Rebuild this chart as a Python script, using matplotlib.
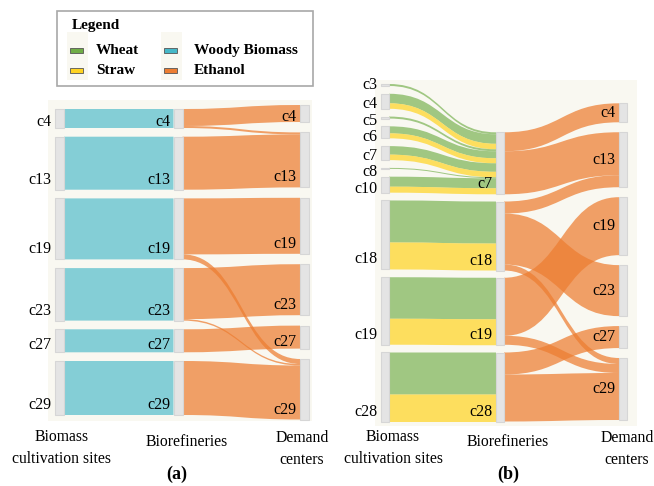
"""Two-panel Sankey: biomass sites -> biorefineries -> ethanol demand centres."""

import matplotlib
matplotlib.use("Agg")
import matplotlib.pyplot as plt
from matplotlib.path import Path
from matplotlib.patches import PathPatch, Rectangle

SERIF = ["Liberation Serif", "DejaVu Serif"]

# ---- data (flow sizes) ----
# panel (a): woody biomass only
a_sites = ["c4", "c13", "c19", "c23", "c27", "c29"]
a_refineries = ["c4", "c13", "c19", "c23", "c27", "c29"]
a_demand = ["c4", "c13", "c19", "c23", "c27", "c29"]
a_site_ref = ["c4", "c13", "c19", "c23", "c27", "c29"]
a_woody = [19, 53, 61, 52.5, 23, 54]
a_eth_src = ["c4", "c4", "c13", "c19", "c19", "c23", "c23", "c27", "c29"]
a_eth_dst = ["c4", "c13", "c13", "c19", "c29", "c23", "c29", "c27", "c29"]
a_eth_val = [17, 2, 53, 56, 5, 51, 1.5, 23, 54]

# panel (b): wheat + straw
b_sites = ["c3", "c4", "c5", "c6", "c7", "c8", "c10", "c18", "c19", "c28"]
b_refineries = ["c7", "c18", "c19", "c28"]
b_demand = ["c4", "c13", "c19", "c23", "c27", "c29"]
b_site_ref = ["c7", "c7", "c7", "c7", "c7", "c7", "c7", "c18", "c19", "c28"]
b_wheat = [2, 9.5, 2, 7, 8.5, 1, 10, 42, 41.5, 42]
b_straw = [0, 5.5, 0, 5, 5.5, 0, 6, 27, 26, 27.5]
b_eth_src = ["c7", "c7", "c18", "c18", "c18", "c19", "c19", "c28", "c28"]
b_eth_dst = ["c4", "c13", "c13", "c23", "c29", "c19", "c29", "c27", "c29"]
b_eth_val = [19, 43, 12, 51, 6, 58, 9, 22, 47]

# ---- styling ----
BG = "#f9f8f1"
BASE = {"Wheat": "#70ad47", "Straw": "#ffd320",
        "Woody Biomass": "#46b8c8", "Ethanol": "#ed7d31"}
ALPHA = {"Wheat": 0.65, "Straw": 0.7, "Woody Biomass": 0.65, "Ethanol": 0.72}
LABEL_SIZE = 11.5
LABEL_GAP = 16.5  # minimum spacing between node labels in one column


def bezier_band(x0, s0, x1, t0, w):
    xm = (x0 + x1) / 2
    verts = [(x0, s0), (xm, s0), (xm, t0), (x1, t0),
             (x1, t0 + w), (xm, t0 + w), (xm, s0 + w), (x0, s0 + w), (x0, s0)]
    codes = [Path.MOVETO, Path.CURVE4, Path.CURVE4, Path.CURVE4,
             Path.LINETO, Path.CURVE4, Path.CURVE4, Path.CURVE4, Path.CLOSEPOLY]
    return Path(verts, codes)


def draw_sankey(ax, columns, links, layout):
    """columns: list of node-name lists; links: (col, src, dst, value, kind)."""
    xs, nw = layout["xs"], layout["node_w"]
    inflow, outflow = {}, {}
    for c, s, d, v, _ in links:
        outflow[(c, s)] = outflow.get((c, s), 0) + v
        inflow[(c + 1, d)] = inflow.get((c + 1, d), 0) + v

    # node positions: each column fitted in its span with even padding
    pos = {}
    for c, names in enumerate(columns):
        vals = [max(inflow.get((c, n), 0), outflow.get((c, n), 0)) for n in names]
        top, bot = layout["spans"][c]
        pad = (bot - top - sum(vals)) / (len(names) - 1)
        y = top
        for n, v in zip(names, vals):
            pos[(c, n)] = (y, v)
            y += v + pad

    # stack links at source (by target y) and target (by source y)
    order_out = sorted(range(len(links)),
                       key=lambda i: (pos[(links[i][0] + 1, links[i][2])][0], i))
    order_in = sorted(range(len(links)),
                      key=lambda i: (pos[(links[i][0], links[i][1])][0], i))
    s_off, t_off = {}, {}
    cur = {}
    for i in order_out:
        c, s = links[i][0], links[i][1]
        y0 = cur.get((c, s), pos[(c, s)][0])
        s_off[i] = y0
        cur[(c, s)] = y0 + links[i][3]
    cur = {}
    for i in order_in:
        c, d = links[i][0] + 1, links[i][2]
        y0 = cur.get((c, d), pos[(c, d)][0])
        t_off[i] = y0
        cur[(c, d)] = y0 + links[i][3]

    for i, (c, s, d, v, kind) in enumerate(links):
        if v <= 0:
            continue
        band = bezier_band(xs[c] + nw, s_off[i], xs[c + 1], t_off[i], v)
        ax.add_patch(PathPatch(band, facecolor=BASE[kind], alpha=ALPHA[kind],
                               edgecolor="none", zorder=2))

    for c, names in enumerate(columns):
        prev = -1e9
        for n in names:
            y, h = pos[(c, n)]
            ax.add_patch(Rectangle((xs[c], y), nw, h, facecolor="#e4e4e4",
                                   edgecolor="#d6d6d6", lw=0.8, zorder=3))
            if layout["label_modes"][c] == "center":
                ly = y + h / 2
            else:
                ly = y + h / 2 + max(0.2 * h, h / 2 - 10)
            ly = max(ly, prev + LABEL_GAP)
            prev = ly
            ax.text(xs[c] - 3.5, ly, n, ha="right", va="center",
                    fontsize=LABEL_SIZE, family=SERIF, zorder=4)


def panel_links(site_ref, sites, kinds_vals, eth_src, eth_dst, eth_val):
    links = []
    for site, ref, *vals in zip(sites, site_ref, *[kv[1] for kv in kinds_vals]):
        for (kind, _), v in zip(kinds_vals, vals):
            links.append((0, site, ref, v, kind))
    for s, d, v in zip(eth_src, eth_dst, eth_val):
        links.append((1, s, d, v, "Ethanol"))
    return links


fig = plt.figure(figsize=(6.54, 4.86), dpi=100)
ax = fig.add_axes([0, 0, 1, 1])
ax.set_xlim(0, 654)
ax.set_ylim(486, 0)
ax.axis("off")

layout_a = dict(xs=[55, 173.5, 300], node_w=9,
                spans=[(109, 415), (109, 415), (105, 419.5)],
                label_modes=["bottom", "bottom", "bottom"],
                bg=(48, 100, 312, 421),
                captions=[(62, 448), (187, 442), (302, 449)], tag=(177, 474))
layout_b = dict(xs=[381, 496, 619], node_w=8,
                spans=[(84, 422), (132.3, 422), (103.3, 420)],
                label_modes=["bottom", "bottom", "center"],
                bg=(375, 80, 637, 426),
                captions=[(393, 448), (508, 442), (627, 449)], tag=(508, 474))

links_a = panel_links(a_site_ref, a_sites, [("Woody Biomass", a_woody)],
                      a_eth_src, a_eth_dst, a_eth_val)
links_b = panel_links(b_site_ref, b_sites, [("Wheat", b_wheat), ("Straw", b_straw)],
                      b_eth_src, b_eth_dst, b_eth_val)

captions = ["Biomass\ncultivation sites", "Biorefineries", "Demand\ncenters"]
for cols, links, lay, tag in [
    ([a_sites, a_refineries, a_demand], links_a, layout_a, "(a)"),
    ([b_sites, b_refineries, b_demand], links_b, layout_b, "(b)"),
]:
    x0, y0, x1, y1 = lay["bg"]
    ax.add_patch(Rectangle((x0, y0), x1 - x0, y1 - y0, facecolor=BG,
                           edgecolor="none", zorder=0))
    draw_sankey(ax, cols, links, lay)
    for text, (cx, cy) in zip(captions, lay["captions"]):
        ax.text(cx, cy, text, ha="center", va="center", fontsize=11.3,
                family=SERIF, linespacing=1.55)
    ax.text(*lay["tag"], tag, ha="center", va="center", fontsize=13,
            fontweight="bold", family=SERIF)

# legend box
ax.add_patch(Rectangle((57, 11), 256, 75, facecolor="white",
                       edgecolor="#a8a8a8", lw=1.2, zorder=5))
ax.text(72, 25, "Legend", ha="left", va="center", fontsize=11,
        fontweight="bold", family=SERIF, zorder=6)
legend_cols = [(70, 96, ["Wheat", "Straw"]), (164, 194, ["Woody Biomass", "Ethanol"])]
for px, tx, names in legend_cols:
    ax.add_patch(Rectangle((px - 3, 32), 21, 48, facecolor=BG,
                           edgecolor="none", zorder=5))
    for name, ry in zip(names, [50.3, 70.7]):
        ax.add_patch(Rectangle((px, ry - 2.7), 13, 5.4, facecolor=BASE[name],
                               edgecolor="#555555", lw=0.6, zorder=6))
        ax.text(tx, ry, name, ha="left", va="center", fontsize=11,
                fontweight="bold", family=SERIF, zorder=6)

fig.savefig("out.png", dpi=100)
